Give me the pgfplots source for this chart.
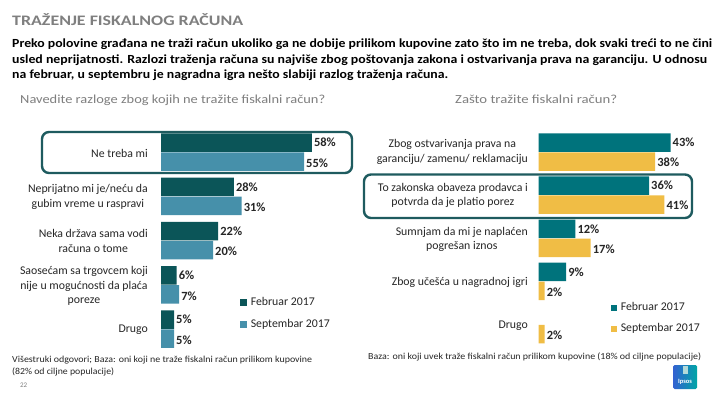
\documentclass[border=0pt]{standalone}
\usepackage{fontspec}
\setmainfont{Carlito}
\usepackage{pgfplots}
\pgfplotsset{compat=1.18}
\usepackage{graphicx}

\definecolor{lfeb}{HTML}{0B5558}
\definecolor{lsep}{HTML}{4690AA}
\definecolor{rfeb}{HTML}{00737C}
\definecolor{rsep}{HTML}{F0BD45}
\definecolor{boxc}{HTML}{1E5B5F}
\definecolor{grayt}{HTML}{7F7F7F}
\definecolor{txt}{HTML}{262626}

\newsavebox\fitboxa
\newsavebox\fitboxb
\newsavebox\fitboxc
\newcommand\fitw[2]{\sbox\fitboxc{#2}\scalebox{\fpeval{#1/\the\wd\fitboxc}}[1]{\usebox\fitboxc}}

\begin{document}
\sbox\fitboxa{\fontsize{12.4}{14}\selectfont\bfseries Preko polovine građana ne traži račun ukoliko ga ne dobije prilikom kupovine zato što im ne treba, dok svaki treći to ne čini}%
\edef\sfac{\fpeval{700pt/\the\wd\fitboxa}}%
\sbox\fitboxb{\fontsize{12.4}{14}\selectfont\bfseries usled neprijatnosti. Razlozi traženja računa su najviše zbog poštovanja zakona i ostvarivanja prava na garanciju. U odnosu}%
\edef\sfacb{\fpeval{695pt/\the\wd\fitboxb}}%
\begin{tikzpicture}
\fill[white] (0,0) rectangle (720pt,-405pt);
\path[use as bounding box] (0,0) rectangle (720pt,-405pt);

\pgfplotsset{
  mybars/.style={
    scale only axis, ymin=-0.5, ymax=4.5, xmin=0,
    axis lines=none, clip=false,
    xbar, bar width=18.5pt,
    point meta=x,
    /pgf/number format/assume math mode=true,
    nodes near coords={\pgfmathprintnumber{\pgfplotspointmeta}\%},
    every node near coord/.append style={anchor=west, font=\bfseries\fontsize{12.5}{14}\selectfont, text=txt, inner sep=2pt},
    legend cell align=left,
  }
}

% ---------- left chart ----------
\begin{axis}[mybars,
  at={(161pt,-351.125pt)}, anchor=south west,
  width=182pt, height=221.25pt, xmax=70,
  legend style={at={(axis description cs:0.434,0.170)}, anchor=west, draw=none, fill=none,
    font=\fontsize{11.8}{13}\selectfont, text=txt, row sep=8pt, column sep=2.5pt, inner sep=0pt,
    nodes={inner sep=1.5pt, text height=8pt, text depth=2.5pt}},
  legend image code/.code={\fill[#1,draw=none] (0pt,-3.3pt) rectangle (6.6pt,3.3pt);},
]
\addplot[fill=lfeb, draw=none, bar shift=9.5pt] coordinates {(58,4) (28,3) (22,2) (6,1) (5,0)};
\addplot[fill=lsep, draw=none, bar shift=-9.5pt, every node near coord/.append style={yshift=-1.5pt}] coordinates {(55,4) (31,3) (20,2) (7,1) (5,0)};
\legend{Februar 2017, Septembar 2017}
\end{axis}

% ---------- right chart ----------
\begin{axis}[mybars,
  at={(538.5pt,-346.05pt)}, anchor=south west,
  width=153.5pt, height=215.5pt, xmax=50,
  legend style={at={(axis description cs:0.472,0.128)}, anchor=west, draw=none, fill=none,
    font=\fontsize{11.8}{13}\selectfont, text=txt, row sep=8pt, column sep=2.5pt, inner sep=0pt,
    nodes={inner sep=1.5pt, text height=8pt, text depth=2.5pt}},
  legend image code/.code={\fill[#1,draw=none] (0pt,-2.8pt) rectangle (5.6pt,2.8pt);},
]
\addplot[fill=rfeb, draw=none, bar shift=9.5pt] coordinates {(43,4) (36,3) (12,2) (9,1)};
\addplot[fill=rsep, draw=none, bar shift=-9.5pt, every node near coord/.append style={yshift=-1pt}] coordinates {(38,4) (41,3) (17,2) (2,1) (2,0)};
\legend{Februar 2017, Septembar 2017}
\end{axis}

\begin{scope}[x=1pt,y=-1pt]
% title
\node[anchor=base west, inner sep=0pt, text=grayt] at (12,25.7) {\fitw{231pt}{\fontsize{14.5}{16}\selectfont\bfseries TRAŽENJE FISKALNOG RAČUNA}};
% subtitle
\node[anchor=base west, inner sep=0pt, text=black] at (12,47.3) {\scalebox{\sfac}[1]{\usebox\fitboxa}};
\node[anchor=base west, inner sep=0pt, text=black] at (12,63.3) {\scalebox{\sfacb}[1]{\usebox\fitboxb}};
\node[anchor=base west, inner sep=0pt, text=black] at (12,78.5) {\scalebox{\sfac}[1]{\fontsize{12.4}{14}\selectfont\bfseries na februar, u septembru je nagradna igra nešto slabiji razlog traženja računa.}};
% questions
\node[anchor=base west, inner sep=0pt, text=grayt] at (20,103.3) {\fitw{305pt}{\fontsize{12.3}{14}\selectfont Navedite razloge zbog kojih ne tražite fiskalni račun?}};
\node[anchor=base west, inner sep=0pt, text=grayt] at (455,103.3) {\fitw{162pt}{\fontsize{12.3}{14}\selectfont Zašto tražite fiskalni račun?}};

% left categories
\tikzset{cat/.style={anchor=east, align=center, inner sep=0pt, text=txt, font=\fontsize{11.8}{14.3}\selectfont}}
\node[cat] at (148,153) {Ne treba mi};
\node[cat] at (148,197) {Neprijatno mi je/neću da\\gubim vreme u raspravi};
\node[cat] at (148,241) {Neka država sama vodi\\računa o tome};
\node[cat] at (148,286) {Saosećam sa trgovcem koji\\nije u mogućnosti da plaća\\poreze};
\node[cat] at (148,330) {Drugo};
% right categories
\node[cat] at (528,152) {Zbog ostvarivanja prava na\\garanciju/ zamenu/ reklamaciju};
\node[cat] at (528,195.5) {To zakonska obaveza prodavca i\\potvrda da je platio porez};
\node[cat] at (528,239.5) {Sumnjam da mi je naplaćen\\pogrešan iznos};
\node[cat] at (528,282) {Zbog učešća u nagradnoj igri};
\node[cat] at (528,326) {Drugo};

% highlight boxes
\draw[boxc, line width=2.4pt, rounded corners=7pt] (42,132) rectangle (352,173);
\draw[boxc, line width=2.4pt, rounded corners=7pt] (364,174.5) rectangle (692,218);

% footnotes
\node[anchor=west, inner sep=0pt, text=txt] at (12,360) {\fitw{300pt}{\fontsize{9.2}{11}\selectfont Višestruki odgovori; Baza: oni koji ne traže fiskalni račun prilikom kupovine}};
\node[anchor=west, inner sep=0pt, text=txt] at (12,372) {\fitw{102pt}{\fontsize{9.2}{11}\selectfont (82\% od ciljne populacije)}};
\node[anchor=west, inner sep=0pt, text=grayt, font=\fontsize{7}{8}\selectfont] at (20,385) {22};
\node[anchor=west, inner sep=0pt, text=txt] at (368,357) {\fitw{333pt}{\fontsize{9.2}{11}\selectfont Baza: oni koji uvek traže fiskalni račun prilikom kupovine (18\% od ciljne populacije)}};

% Ipsos logo
\shade[left color=blue!55!teal!80, right color=teal!70!cyan, rounded corners=1.5pt] (673,365) rectangle (697,389);
\fill[white!70!teal] (683,366) rectangle (688,374);
\node[text=white, font=\bfseries\fontsize{6.5}{7}\selectfont, inner sep=0pt] at (685,382) {Ipsos};
\end{scope}
\end{tikzpicture}
\end{document}
